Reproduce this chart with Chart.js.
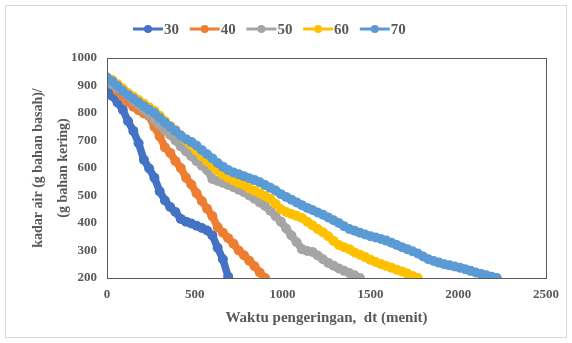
<!DOCTYPE html>
<html><head><meta charset="utf-8">
<script src="https://cdn.jsdelivr.net/npm/chart.js@4/dist/chart.umd.min.js"></script>
<style>html,body{margin:0;padding:0;background:#fff}#wrap{width:572px;height:343px;position:relative}</style>
</head><body><div id="wrap"><canvas id="c" width="572" height="343"></canvas></div>
<script>
const times = [0,30,60,90,120,150,180,210,240,270,300,330,360,390,420,450,480,510,540,570,600,630,660,690,720,750,780,810,840,870,900,930,960,990,1020,1050,1080,1110,1140,1170,1200,1230,1260,1290,1320,1350,1380,1410,1440,1470,1500,1530,1560,1590,1620,1650,1680,1710,1740,1770,1800,1830,1860,1890,1920,1950,1980,2010,2040,2070,2100,2130,2160,2190,2220];
const seriesLabels = ["30","40","50","60","70"];
const s30 = [920,862,838,812,770,735,690,630,598,565,515,482,458,440,415,405,398,390,382,373,355,310,268,205];
const s40 = [925,905,880,860,840,823,810,798,788,750,715,675,655,625,600,565,540,508,480,452,425,385,365,345,325,300,283,263,243,220,200];
const s50 = [925,905,890,877,862,845,830,812,795,775,755,737,720,700,678,660,643,625,608,592,560,553,546,538,530,521,512,500,488,475,462,445,425,405,380,355,330,305,298,295,282,268,255,245,235,226,218,210,200];
const s60 = [930,920,905,889,873,860,847,834,821,808,790,771,753,738,718,700,683,663,643,625,608,590,576,565,555,546,538,526,517,508,498,488,470,450,440,433,426,418,405,392,378,366,352,335,320,312,305,293,285,276,266,258,251,244,237,230,224,216,207,200];
const s70 = [928,915,898,880,865,852,838,825,812,800,782,765,750,735,718,705,695,682,665,650,635,618,605,593,584,577,570,563,556,548,538,528,518,505,495,485,475,465,455,447,438,430,420,410,400,388,378,372,365,358,352,347,342,336,328,320,312,305,297,289,278,268,262,256,250,246,242,237,232,226,220,215,210,205,200];
const yTicks = [200,300,400,500,600,700,800,900,1000];
const xTicks = [0,500,1000,1500,2000,2500];
const colors = ["#4472C4","#ED7D31","#A5A5A5","#FFC000","#5B9BD5"];
const allSeries = [s30,s40,s50,s60,s70];

const datasets = allSeries.map((s,i)=>({
  label: seriesLabels[i],
  data: s.map((v,j)=>({x:times[j], y:v})),
  borderColor: colors[i], backgroundColor: colors[i],
  pointBackgroundColor: colors[i], pointBorderColor: colors[i],
  pointRadius: 5, pointBorderWidth: 0, borderWidth: 7.5, showLine: true, tension: 0,
  borderJoinStyle: 'round', borderCapStyle: 'round',
  order: 5 - i
}));

const serif = "'Liberation Serif','Times New Roman',serif";
const txt = "#595959";

const deco = {
  id: 'deco',
  beforeDraw(chart){
    const ctx = chart.ctx;
    ctx.save();
    ctx.fillStyle = '#fff'; ctx.fillRect(0,0,chart.width,chart.height);
    ctx.strokeStyle = '#d9d9d9'; ctx.lineWidth = 1;
    ctx.strokeRect(5.5,5.5,561,332);
    ctx.restore();
  },
  afterDraw(chart){
    const ctx = chart.ctx, a = chart.chartArea;
    ctx.save();
    ctx.strokeStyle = '#595959'; ctx.lineWidth = 1;
    ctx.strokeRect(Math.round(a.left)+0.5, Math.round(a.top)+0.5, Math.round(a.right-a.left), Math.round(a.bottom-a.top));
    // legend
    ctx.font = "bold 15px " + serif;
    ctx.textBaseline = 'middle';
    let x = 133; const y = 29;
    chart.data.datasets.forEach((d,i)=>{
      ctx.strokeStyle = colors[i]; ctx.lineWidth = 3;
      ctx.beginPath(); ctx.moveTo(x,y); ctx.lineTo(x+30,y); ctx.stroke();
      ctx.fillStyle = colors[i];
      ctx.beginPath(); ctx.arc(x+15,y,4,0,Math.PI*2); ctx.fill();
      ctx.fillStyle = txt; ctx.textAlign='left';
      ctx.fillText(d.label, x+31, y+1);
      x += 56.7;
    });
    ctx.restore();
  }
};

new Chart(document.getElementById('c'), {
  type: 'scatter',
  data: { datasets },
  options: {
    responsive: false, animation: false, devicePixelRatio: 1,
    layout: { padding: { top: 58, right: 26, left: 26, bottom: 16 } },
    plugins: { legend: { display: false }, tooltip: { enabled: false } },
    scales: {
      x: {
        type: 'linear', min: 0, max: 2500,
        afterBuildTicks: s => { s.ticks = xTicks.map(v=>({value:v})); },
        afterFit: s => { s.height = 49; },
        grid: { display: false, drawTicks: false },
        border: { display: false },
        ticks: { color: txt, font: { family: serif, size: 13, weight: 'bold' }, padding: 9, maxRotation: 0, callback: v => String(v) },
        title: { display: true, text: 'Waktu pengeringan,  dt (menit)', color: txt, font: { family: serif, size: 15, weight: 'bold' }, padding: { top: 4, bottom: 0 } }
      },
      y: {
        type: 'linear', min: 200, max: 1000,
        afterBuildTicks: s => { s.ticks = yTicks.map(v=>({value:v})); },
        afterFit: s => { s.width = 81; },
        grid: { display: false, drawTicks: false },
        border: { display: false },
        ticks: { color: txt, font: { family: serif, size: 13, weight: 'bold' }, padding: 10, callback: v => String(v) },
        title: { display: true, text: ['kadar air (g bahan basah)/', '(g bahan kering)'], color: txt, font: { family: serif, size: 14, weight: 'bold', lineHeight: 1.8 }, padding: { top: 0, bottom: 0 } }
      }
    }
  },
  plugins: [deco]
});
</script></body></html>
